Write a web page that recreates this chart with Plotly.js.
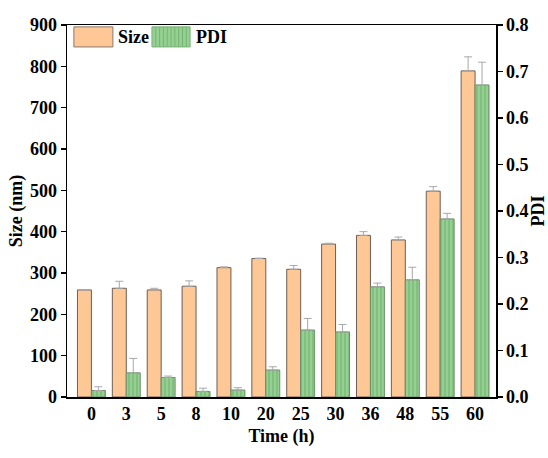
<!DOCTYPE html>
<html>
<head>
<meta charset="utf-8">
<script src="https://cdn.plot.ly/plotly-3.0.1.min.js"></script>
<style>html,body{margin:0;padding:0;background:#fff;}</style>
</head>
<body>
<div id="chart" style="width:548px;height:458px;"></div>
<script>
const timeLabels = ['0','3','5','8','10','20','25','30','36','48','55','60'];
const sizeValues = [259, 263, 259, 268, 313, 335, 309, 370, 391, 380, 498, 789];
const sizeErrors = [0, 17, 4, 13, 2, 1, 9, 2, 9, 7, 11, 34];
const pdiValues = [0.014, 0.052, 0.042, 0.012, 0.015, 0.058, 0.144, 0.140, 0.237, 0.252, 0.383, 0.671];
const pdiErrors = [0.008, 0.031, 0.003, 0.007, 0.005, 0.007, 0.025, 0.016, 0.008, 0.027, 0.012, 0.049];

const idx = timeLabels.map((_, i) => i);
const fam = 'Liberation Serif, Times New Roman, serif';
const tickFont = {family: fam, size: 18, color: '#000', weight: 'bold'};
const titleFont = {family: fam, size: 18, color: '#000'};

const traces = [
  {
    type: 'bar', x: idx, y: sizeValues, name: 'Size', yaxis: 'y',
    offset: -0.4, width: 0.4,
    marker: {color: '#fdc796', line: {color: '#6e5f55', width: 1}},
    error_y: {type: 'data', array: sizeErrors, arrayminus: sizeErrors.map(() => 0), symmetric: false,
              color: '#a8a8a8', thickness: 1, width: 4},
    showlegend: false
  },
  {
    type: 'bar', x: idx, y: pdiValues, name: 'PDI', yaxis: 'y2',
    offset: 0, width: 0.4,
    marker: {color: '#93cf90', line: {color: '#6f8f6c', width: 1},
             pattern: {shape: '|', fgcolor: '#74b671', bgcolor: '#95d092', size: 4, solidity: 0.3}},
    error_y: {type: 'data', array: pdiErrors, arrayminus: pdiErrors.map(() => 0), symmetric: false,
              color: '#a8a8a8', thickness: 1, width: 4},
    showlegend: false
  }
];

function stripes(x0, x1, y0, y1, n) {
  const s = [];
  for (let k = 1; k < n; k++) {
    const xx = x0 + (x1 - x0) * k / n;
    s.push({type: 'line', xref: 'paper', yref: 'paper', x0: xx, x1: xx, y0: y0, y1: y1,
            line: {color: '#74b671', width: 1}});
  }
  return s;
}

const layout = {
  width: 548, height: 458,
  margin: {l: 67, r: 52, t: 25, b: 61},
  paper_bgcolor: '#fff', plot_bgcolor: '#fff',
  font: titleFont,
  showlegend: false,
  xaxis: {
    range: [-0.7, 11.6], tickmode: 'array', tickvals: idx, ticktext: timeLabels,
    showline: true, linecolor: '#000', linewidth: 1.5, mirror: true,
    ticks: '', showgrid: false, zeroline: false,
    tickfont: tickFont,
    title: {text: '<b>Time (h)</b>', font: titleFont, standoff: 6}
  },
  yaxis: {
    range: [0, 900], dtick: 100, showline: true, linecolor: '#000', linewidth: 1.5,
    ticks: 'outside', ticklen: 5, tickwidth: 1.2, tickcolor: '#000',
    showgrid: false, zeroline: false,
    tickfont: tickFont,
    title: {text: '<b>Size (nm)</b>', font: titleFont, standoff: 2}
  },
  yaxis2: {
    range: [0, 0.8], dtick: 0.1, tickformat: '.1f', overlaying: 'y', side: 'right',
    showline: true, linecolor: '#000', linewidth: 1.5,
    ticks: 'outside', ticklen: 5, tickwidth: 1.2, tickcolor: '#000',
    showgrid: false, zeroline: false,
    tickfont: tickFont,
    title: {text: '<b>PDI</b>', font: titleFont, standoff: 4}
  },
  shapes: [
    {type: 'rect', xref: 'paper', yref: 'paper', x0: 0.016, x1: 0.107, y0: 0.941, y1: 0.995,
     fillcolor: '#fdc796', line: {color: '#8a7a70', width: 1}},
    {type: 'rect', xref: 'paper', yref: 'paper', x0: 0.198, x1: 0.287, y0: 0.941, y1: 0.995,
     fillcolor: '#95d092', line: {color: '#7fae7c', width: 1}}
  ].concat(stripes(0.198, 0.287, 0.941, 0.995, 10)),
  annotations: [
    {xref: 'paper', yref: 'paper', x: 0.114, y: 0.968, xanchor: 'left', yanchor: 'middle',
     text: '<b>Size</b>', showarrow: false, font: {family: fam, size: 18, color: '#000'}},
    {xref: 'paper', yref: 'paper', x: 0.297, y: 0.968, xanchor: 'left', yanchor: 'middle',
     text: '<b>PDI</b>', showarrow: false, font: {family: fam, size: 18, color: '#000'}}
  ]
};

Plotly.newPlot('chart', traces, layout, {displayModeBar: false, staticPlot: true});
</script>
</body>
</html>
